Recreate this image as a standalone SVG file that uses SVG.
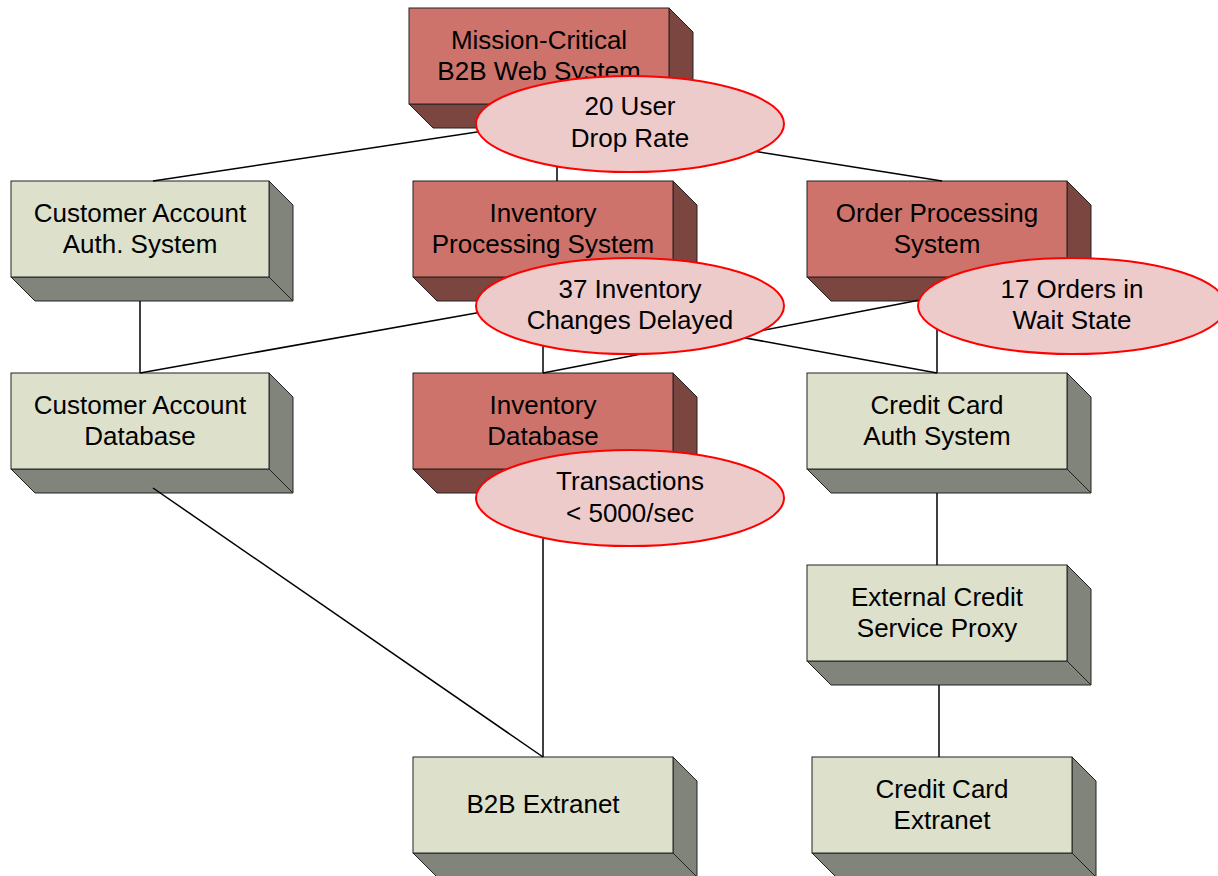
<svg xmlns="http://www.w3.org/2000/svg" width="1218" height="876" viewBox="0 0 1218 876">
<style>
text{font-family:"Liberation Sans",Arial,sans-serif;font-size:26px;fill:#000;text-anchor:middle}
.edge{stroke:#000;stroke-width:1.5;fill:none}
.rf{fill:#CD736B;stroke:#222;stroke-width:1}
.rs{fill:#7B4640;stroke:#222;stroke-width:1}
.gf{fill:#DDE0CB;stroke:#222;stroke-width:1}
.gs{fill:#81847A;stroke:#222;stroke-width:1}
.ell{fill:#EECBCB;stroke:#FF0000;stroke-width:2}
</style>
<rect width="1218" height="876" fill="#fff"/>
<g id="node-top">
<polygon class="rs" points="669,8 693,32 693,128 669,104"/>
<polygon class="rs" points="409,104 669,104 693,128 433,128"/>
<rect class="rf" x="409" y="8" width="260" height="96"/>
<text x="539" y="49">Mission-Critical</text>
<text x="539" y="80">B2B Web System</text>
</g>
<g id="node-cust-auth">
<polygon class="gs" points="269,181 293,205 293,301 269,277"/>
<polygon class="gs" points="11,277 269,277 293,301 35,301"/>
<rect class="gf" x="11" y="181" width="258" height="96"/>
<text x="140" y="222">Customer Account</text>
<text x="140" y="253">Auth. System</text>
</g>
<g id="node-inv-proc">
<polygon class="rs" points="673,181 697,205 697,301 673,277"/>
<polygon class="rs" points="413,277 673,277 697,301 437,301"/>
<rect class="rf" x="413" y="181" width="260" height="96"/>
<text x="543" y="222">Inventory</text>
<text x="543" y="253">Processing System</text>
</g>
<g id="node-order-proc">
<polygon class="rs" points="1067,181 1091,205 1091,301 1067,277"/>
<polygon class="rs" points="807,277 1067,277 1091,301 831,301"/>
<rect class="rf" x="807" y="181" width="260" height="96"/>
<text x="937" y="222">Order Processing</text>
<text x="937" y="253">System</text>
</g>
<g id="node-cust-db">
<polygon class="gs" points="269,373 293,397 293,493 269,469"/>
<polygon class="gs" points="11,469 269,469 293,493 35,493"/>
<rect class="gf" x="11" y="373" width="258" height="96"/>
<text x="140" y="414">Customer Account</text>
<text x="140" y="445">Database</text>
</g>
<g id="node-inv-db">
<polygon class="rs" points="673,373 697,397 697,493 673,469"/>
<polygon class="rs" points="413,469 673,469 697,493 437,493"/>
<rect class="rf" x="413" y="373" width="260" height="96"/>
<text x="543" y="414">Inventory</text>
<text x="543" y="445">Database</text>
</g>
<g id="node-cc-auth">
<polygon class="gs" points="1067,373 1091,397 1091,493 1067,469"/>
<polygon class="gs" points="807,469 1067,469 1091,493 831,493"/>
<rect class="gf" x="807" y="373" width="260" height="96"/>
<text x="937" y="414">Credit Card</text>
<text x="937" y="445">Auth System</text>
</g>
<g id="node-ext-credit">
<polygon class="gs" points="1067,565 1091,589 1091,685 1067,661"/>
<polygon class="gs" points="807,661 1067,661 1091,685 831,685"/>
<rect class="gf" x="807" y="565" width="260" height="96"/>
<text x="937" y="606">External Credit</text>
<text x="937" y="637">Service Proxy</text>
</g>
<g id="node-b2b-extranet">
<polygon class="gs" points="673,757 697,781 697,877 673,853"/>
<polygon class="gs" points="413,853 673,853 697,877 437,877"/>
<rect class="gf" x="413" y="757" width="260" height="96"/>
<text x="543" y="813">B2B Extranet</text>
</g>
<g id="node-cc-extranet">
<polygon class="gs" points="1072,757 1096,781 1096,877 1072,853"/>
<polygon class="gs" points="812,853 1072,853 1096,877 836,877"/>
<rect class="gf" x="812" y="757" width="260" height="96"/>
<text x="942" y="798">Credit Card</text>
<text x="942" y="829">Extranet</text>
</g>
<g id="connectors">
<line class="edge" x1="557" y1="120" x2="153" y2="181"/>
<line class="edge" x1="557" y1="128" x2="557" y2="181"/>
<line class="edge" x1="557" y1="120" x2="942" y2="181"/>
<line class="edge" x1="140" y1="301" x2="140" y2="373"/>
<line class="edge" x1="543" y1="301" x2="140" y2="373"/>
<line class="edge" x1="543" y1="301" x2="543" y2="373"/>
<line class="edge" x1="543" y1="301" x2="937" y2="373"/>
<line class="edge" x1="937" y1="301" x2="937" y2="373"/>
<line class="edge" x1="920" y1="300" x2="543" y2="373"/>
<line class="edge" x1="543" y1="493" x2="543" y2="757"/>
<line class="edge" x1="153" y1="488" x2="543" y2="757"/>
<line class="edge" x1="937" y1="493" x2="937" y2="565"/>
<line class="edge" x1="939" y1="685" x2="939" y2="757"/>
</g>
<g id="note-drop-rate">
<ellipse class="ell" cx="630" cy="124" rx="154" ry="48"/>
<text x="630" y="115">20 User</text>
<text x="630" y="147">Drop Rate</text>
</g>
<g id="note-inventory-delayed">
<ellipse class="ell" cx="630" cy="306" rx="154" ry="48"/>
<text x="630" y="298">37 Inventory</text>
<text x="630" y="329">Changes Delayed</text>
</g>
<g id="note-transactions">
<ellipse class="ell" cx="630" cy="498" rx="154" ry="48"/>
<text x="630" y="490">Transactions</text>
<text x="630" y="522">&lt; 5000/sec</text>
</g>
<g id="note-orders-wait">
<ellipse class="ell" cx="1072" cy="306" rx="154" ry="48"/>
<text x="1072" y="298">17 Orders in</text>
<text x="1072" y="329">Wait State</text>
</g>
</svg>
